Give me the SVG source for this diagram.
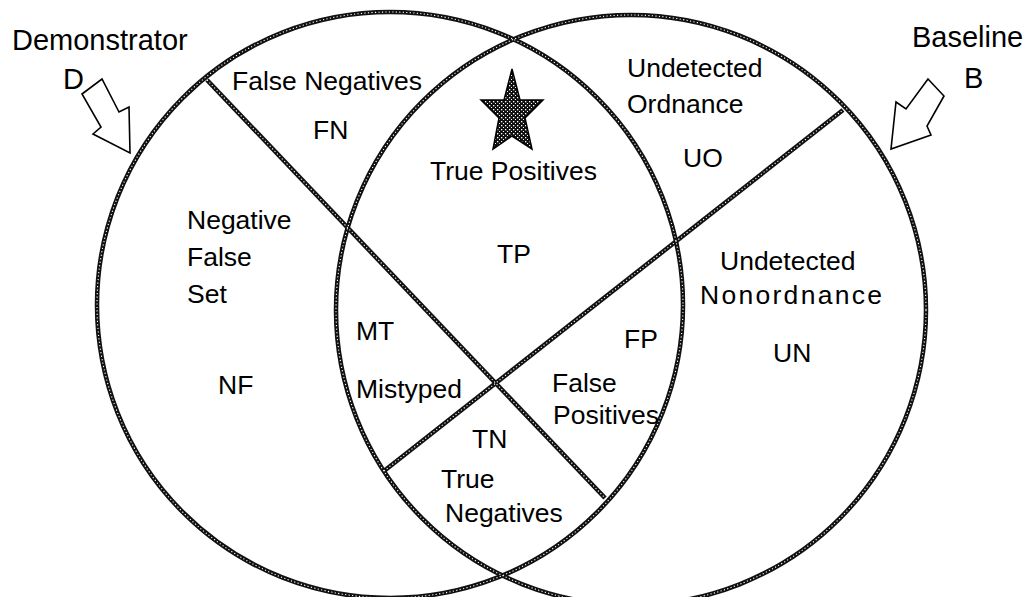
<svg xmlns="http://www.w3.org/2000/svg" width="1027" height="597" viewBox="0 0 1027 597">
<defs>
<pattern id="dots" width="4" height="4" patternUnits="userSpaceOnUse">
<rect width="4" height="4" fill="#111"/>
<rect x="1" y="1" width="1.3" height="1.3" fill="#fff"/>
<rect x="3" y="3" width="1" height="1" fill="#fff"/>
</pattern>
</defs>
<style>
.ln{fill:none;stroke:#111;stroke-width:4.5}
.dl{fill:none;stroke:#fff;stroke-width:1.1;stroke-dasharray:1.2 2.3}
.t{font-family:"Liberation Sans",Arial,sans-serif;font-size:26.5px;fill:#000}
.o{font-family:"Liberation Sans",Arial,sans-serif;font-size:29px;fill:#000}
.arr{fill:#fff;stroke:#000;stroke-width:1.6;stroke-linejoin:miter}
</style>
<rect width="1027" height="597" fill="#fff"/>
<g id="connectors">
<circle class="ln" cx="390" cy="305" r="293"/>
<circle class="ln" cx="631" cy="310" r="295"/>
<line class="ln" x1="207" y1="80" x2="605" y2="498"/>
<line class="ln" x1="384" y1="471" x2="843" y2="110"/>
<circle class="dl" cx="390" cy="305" r="293"/>
<circle class="dl" cx="631" cy="310" r="295"/>
<line class="dl" x1="207" y1="80" x2="605" y2="498"/>
<line class="dl" x1="384" y1="471" x2="843" y2="110"/>
</g>
<g id="star">
<polygon points="512,69 520,100 543,100 525,118 532,149 512,136 493,149 499,118 481,100 504,100" fill="url(#dots)" stroke="#000" stroke-width="1.5"/>
</g>
<g id="demonstrator">
<text class="o" x="12" y="50">Demonstrator</text>
<text class="o" x="63" y="89">D</text>
<polygon class="arr" points="82,94 102,79 119,112 129,107 130,153 93,134 101,127"/>
</g>
<g id="baseline">
<text class="o" x="912" y="47">Baseline</text>
<text class="o" x="964" y="88">B</text>
<polygon class="arr" points="928,79 944,96 927,126 931,135 891,149 896,102 906,109"/>
</g>
<g id="fn">
<text class="t" x="232" y="90">False Negatives</text>
<text class="t" x="313" y="139">FN</text>
</g>
<g id="uo">
<text class="t" x="627" y="77">Undetected</text>
<text class="t" x="627" y="113">Ordnance</text>
<text class="t" x="683" y="167">UO</text>
</g>
<g id="tp">
<text class="t" x="430" y="180">True Positives</text>
<text class="t" x="497" y="263">TP</text>
</g>
<g id="nf">
<text class="t" x="187" y="229">Negative</text>
<text class="t" x="187" y="266">False</text>
<text class="t" x="187" y="303">Set</text>
<text class="t" x="218" y="394">NF</text>
</g>
<g id="mt">
<text class="t" x="356" y="340">MT</text>
<text class="t" x="356" y="398">Mistyped</text>
</g>
<g id="tn">
<text class="t" x="472" y="448">TN</text>
<text class="t" x="441" y="488">True</text>
<text class="t" x="445" y="522">Negatives</text>
</g>
<g id="fp">
<text class="t" x="624" y="348">FP</text>
<text class="t" x="552" y="392">False</text>
<text class="t" x="553" y="424">Positives</text>
</g>
<g id="un">
<text class="t" x="720" y="270">Undetected</text>
<text class="t" x="700" y="304" textLength="182" lengthAdjust="spacing">Nonordnance</text>
<text class="t" x="773" y="362">UN</text>
</g>
</svg>
